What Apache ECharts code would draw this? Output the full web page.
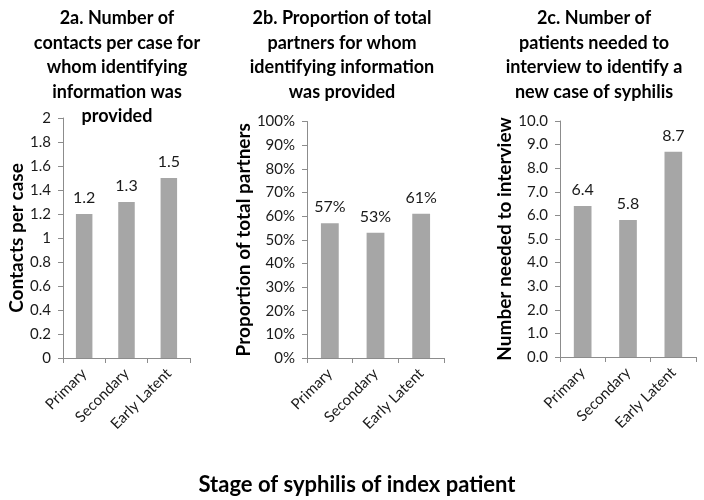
<!DOCTYPE html>
<html><head><meta charset="utf-8">
<script src="https://cdn.jsdelivr.net/npm/echarts@6/dist/echarts.min.js"></script>
<style>html,body{margin:0;padding:0;background:#fff}#c{width:704px;height:500px}</style>
</head><body><div id="c"></div>
<script>
const categories = ['Primary', 'Secondary', 'Early Latent'];
const contactsPerCase = [1.2, 1.3, 1.5];
const proportionPartners = [57, 53, 61];
const neededToInterview = [6.4, 5.8, 8.7];
const titles = [
  '2a. Number of\ncontacts per case for\nwhom identifying\ninformation was\nprovided',
  '2b. Proportion of total\npartners for whom\nidentifying information\nwas provided',
  '2c. Number of\npatients needed to\ninterview to identify a\nnew case of syphilis'
];
const yNames = ['Contacts per case', 'Proportion of total partners', 'Number needed to interview'];
const xTitle = 'Stage of syphilis of index patient';

const FONT = 'Lato';
const txt = '#1a1a1a';
const axisCol = '#8c8c8c';
const barCol = '#a6a6a6';

const grids = [
  {left: 63, top: 118, width: 127, height: 240},
  {left: 307, top: 121.5, width: 137, height: 236.5},
  {left: 560, top: 121, width: 136, height: 236}
];
const yCfg = [
  {min: 0, max: 2, interval: 0.2, fmt: v => String(+v.toFixed(1)), gap: 37, lab: v => v.toFixed(1)},
  {min: 0, max: 100, interval: 10, fmt: v => v + '%', gap: 54, lab: v => v + '%'},
  {min: 0, max: 10, interval: 1, fmt: v => v.toFixed(1), gap: 43, lab: v => v.toFixed(1)}
];
const dataSets = [contactsPerCase, proportionPartners, neededToInterview];
const titleX = [112, 337, 589];

const option = {
  animation: false,
  backgroundColor: '#fff',
  title: titles.map((t, i) => ({
    text: t, left: titleX[i], top: 1, textAlign: 'center',
    textStyle: {fontFamily: FONT, fontWeight: 'bold', fontSize: 18, lineHeight: 24.5, color: '#000'}
  })).concat([{
    text: xTitle, left: 352, top: 469, textAlign: 'center',
    textStyle: {fontFamily: FONT, fontWeight: 'bold', fontSize: 22, color: '#000'}
  }]),
  grid: grids,
  xAxis: grids.map((g, i) => ({
    type: 'category', gridIndex: i, data: categories,
    axisLine: {lineStyle: {color: axisCol, width: 1}},
    axisTick: {show: true, length: 5, lineStyle: {color: axisCol}},
    axisLabel: {rotate: 45, fontFamily: FONT, fontSize: 15, color: txt, margin: 13}
  })),
  yAxis: grids.map((g, i) => ({
    type: 'value', gridIndex: i, min: yCfg[i].min, max: yCfg[i].max, interval: yCfg[i].interval,
    name: yNames[i], nameLocation: 'middle', nameRotate: 90, nameGap: yCfg[i].gap,
    nameTextStyle: {fontFamily: FONT, fontWeight: 'bold', fontSize: 19, color: '#000'},
    axisLine: {show: true, lineStyle: {color: axisCol, width: 1}},
    axisTick: {show: true, length: 5, lineStyle: {color: axisCol}},
    splitLine: {show: false},
    axisLabel: {fontFamily: FONT, fontSize: 15, color: txt, margin: 12, formatter: yCfg[i].fmt}
  })),
  series: dataSets.map((d, i) => ({
    type: 'bar', xAxisIndex: i, yAxisIndex: i, data: d, barWidth: '39%',
    itemStyle: {color: barCol},
    label: {show: true, position: 'top', distance: 8, fontFamily: FONT, fontSize: 16, color: txt,
      formatter: p => yCfg[i].lab(p.value)}
  }))
};
echarts.init(document.getElementById('c'), null, {renderer: 'canvas'}).setOption(option);
</script></body></html>
